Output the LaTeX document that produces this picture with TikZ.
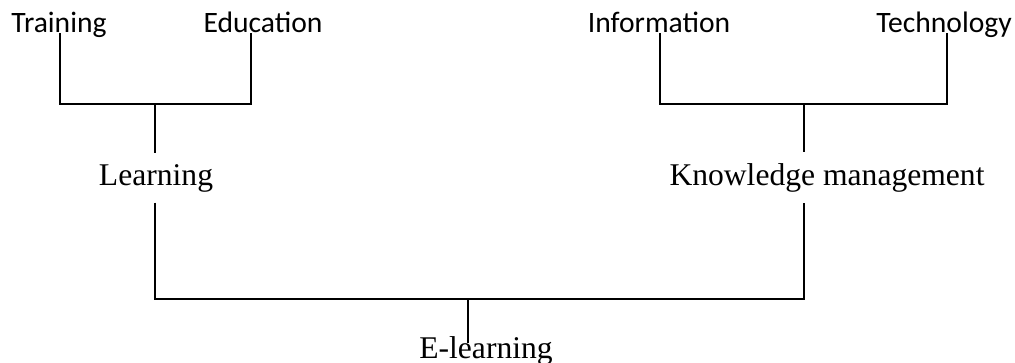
\documentclass[tikz,border=0pt]{standalone}
\usepackage{fontspec}
\setmainfont{Liberation Serif}
\newfontfamily\topfont{Carlito}
\begin{document}
\begin{tikzpicture}[x=0.5pt,y=-0.5pt,line width=0.9pt,
  toplabel/.style={font=\topfont\fontsize{14.8}{17}\selectfont,inner sep=0pt,anchor=base},
  midlabel/.style={font=\fontsize{15.8}{19}\selectfont,inner xsep=0pt,inner ysep=5pt,anchor=base}]
\useasboundingbox (0,0) rectangle (1015,363);
% top row
\node[toplabel] (training) at (59,33) {Training};
\node[toplabel] (education) at (263,33) {Education};
\node[toplabel] (information) at (659,33) {Information};
\node[toplabel] (technology) at (944,33) {Technology};
% middle and bottom
\node[midlabel] (learning) at (156,185) {Learning};
\node[midlabel] (km) at (827,185) {Knowledge management};
\node[midlabel] (elearning) at (486,358) {E-learning};
\coordinate (lt) at (155,104);
\coordinate (kt) at (804,104);
\coordinate (eb) at (468,299);
\draw ([xshift=0.5pt]training.base) |- (lt) -| ([xshift=-6pt]education.base);
\draw ([xshift=0.5pt]information.base) |- (kt) -| ([xshift=1.5pt]technology.base);
\draw (lt) -- (learning.north -| lt);
\draw (kt) -- (km.north -| kt);
\draw (learning.south -| lt) |- (eb) -| (km.south -| kt);
\draw[shorten >=3.5pt] (eb) -- (eb |- elearning.center);
\end{tikzpicture}
\end{document}
